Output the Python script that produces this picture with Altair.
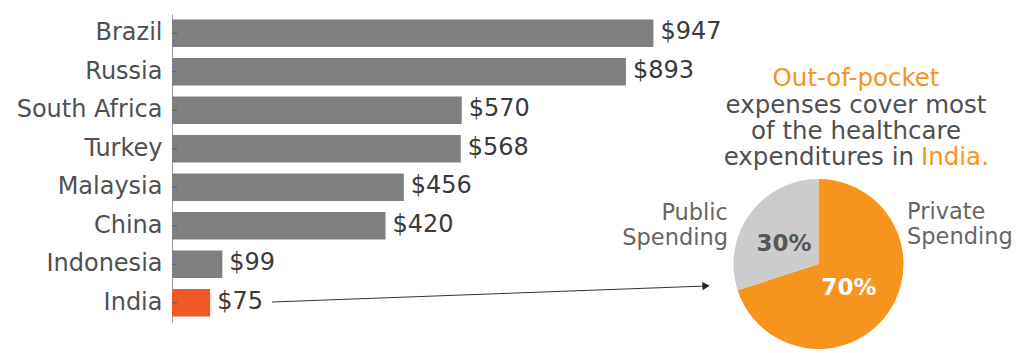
import altair as alt
import pandas as pd

countries = ["Brazil", "Russia", "South Africa", "Turkey", "Malaysia", "China", "Indonesia", "India"]
spending = [947, 893, 570, 568, 456, 420, 99, 75]
value_labels = ["$947", "$893", "$570", "$568", "$456", "$420", "$99", "$75"]

pie_labels = ["Private Spending", "Public Spending"]
pie_values = [70, 30]

title_lines = ["Out-of-pocket", "expenses cover most", "of the healthcare", "expenditures in ", "India."]

FONT = "DejaVu Sans"
OX, OY = 172, 14          # plot origin in the page
W, H = 1024 - OX, 308
GRAY_TXT = "#505050"
ORANGE = "#F7941D"

df = pd.DataFrame({"country": countries, "value": spending, "label": value_labels})

xscale = alt.Scale(domain=[0, 1676], nice=False, zero=True)
yscale = alt.Scale(domain=countries, paddingInner=0.29, paddingOuter=0.145)

base = alt.Chart(df)

bars = base.mark_bar().encode(
    x=alt.X("value:Q", scale=xscale, axis=None),
    y=alt.Y("country:N", scale=yscale, sort=countries, title=None,
            axis=alt.Axis(labelFont=FONT, labelFontSize=24, labelColor=GRAY_TXT,
                          ticks=False, labelPadding=10, domainColor="#999999",
                          domainWidth=1, labelBaseline="middle")),
    color=alt.condition(alt.datum.country == "India", alt.value("#F15A24"), alt.value("#808080")),
)

ticks = base.mark_rule(color="#5a5a5a", strokeWidth=1).encode(
    x=alt.value(0), x2=alt.value(5),
    y=alt.Y("country:N", scale=yscale, sort=countries),
)

vals = base.mark_text(align="left", baseline="middle", dx=7, dy=-1, font=FONT,
                      fontSize=24, color="#3a3a3a").encode(
    x=alt.X("value:Q", scale=xscale),
    y=alt.Y("country:N", scale=yscale, sort=countries),
    text="label:N",
)


def text_at(txt, x, y, align="center", color=GRAY_TXT, size=24, weight="normal"):
    return alt.Chart(pd.DataFrame({"t": [txt]})).mark_text(
        align=align, baseline="alphabetic", font=FONT, fontSize=size,
        color=color, fontWeight=weight,
    ).encode(text="t:N", x=alt.value(x - OX), y=alt.value(y - OY))


CX = 856
TS = 24.5
texts = [
    text_at(title_lines[0], CX, 86, color=ORANGE, size=TS),
    text_at(title_lines[1], CX, 112.5, size=TS),
    text_at(title_lines[2], CX, 139, size=TS),
    text_at(title_lines[3].rstrip(), 914, 165, align="right", size=TS),
    text_at(title_lines[4], 921, 165, align="left", color=ORANGE, size=TS),
]

pub1, pub2 = pie_labels[1].split(" ")
pri1, pri2 = pie_labels[0].split(" ")
PS = 22.5
texts += [
    text_at(pub1, 728, 220, align="right", color="#666666", size=PS),
    text_at(pub2, 728, 245, align="right", color="#666666", size=PS),
    text_at(pri1, 907, 219, align="left", color="#666666", size=PS),
    text_at(pri2, 907, 244, align="left", color="#666666", size=PS),
    text_at(f"{pie_values[1]}%", 784, 251, color="#555555", size=23, weight="bold"),
    text_at(f"{pie_values[0]}%", 849, 295, color="white", size=23, weight="bold"),
]

pie_df = pd.DataFrame({"part": pie_labels, "share": pie_values, "order": [0, 1]})
pie = alt.Chart(pie_df).mark_arc(outerRadius=85).encode(
    theta=alt.Theta("share:Q", stack=True),
    order=alt.Order("order:Q"),
    color=alt.Color("part:N", scale=alt.Scale(domain=pie_labels, range=[ORANGE, "#CCCCCC"]), legend=None),
    x=alt.value(818.5 - OX),
    y=alt.value(264 - OY),
)

arrow_df = pd.DataFrame({"a": [1]})
arrow_line = alt.Chart(arrow_df).mark_rule(color="#333333", strokeWidth=1).encode(
    x=alt.value(272 - OX), x2=alt.value(706 - OX),
    y=alt.value(302 - OY), y2=alt.value(286 - OY),
)
arrow_head = alt.Chart(arrow_df).mark_point(shape="triangle-right", filled=True, color="#222222",
                                            size=70, angle=358, opacity=1).encode(
    x=alt.value(706 - OX), y=alt.value(286 - OY),
)

chart = alt.layer(bars, ticks, vals, pie, arrow_line, arrow_head, *texts).properties(
    width=W, height=H,
    autosize=alt.AutoSizeParams(type="none"),
    padding={"left": OX, "top": OY, "right": 0, "bottom": 353 - OY - H},
    background="white",
).configure_view(stroke=None)

chart.save("out.html", embed_options={"renderer": "svg", "actions": False})
